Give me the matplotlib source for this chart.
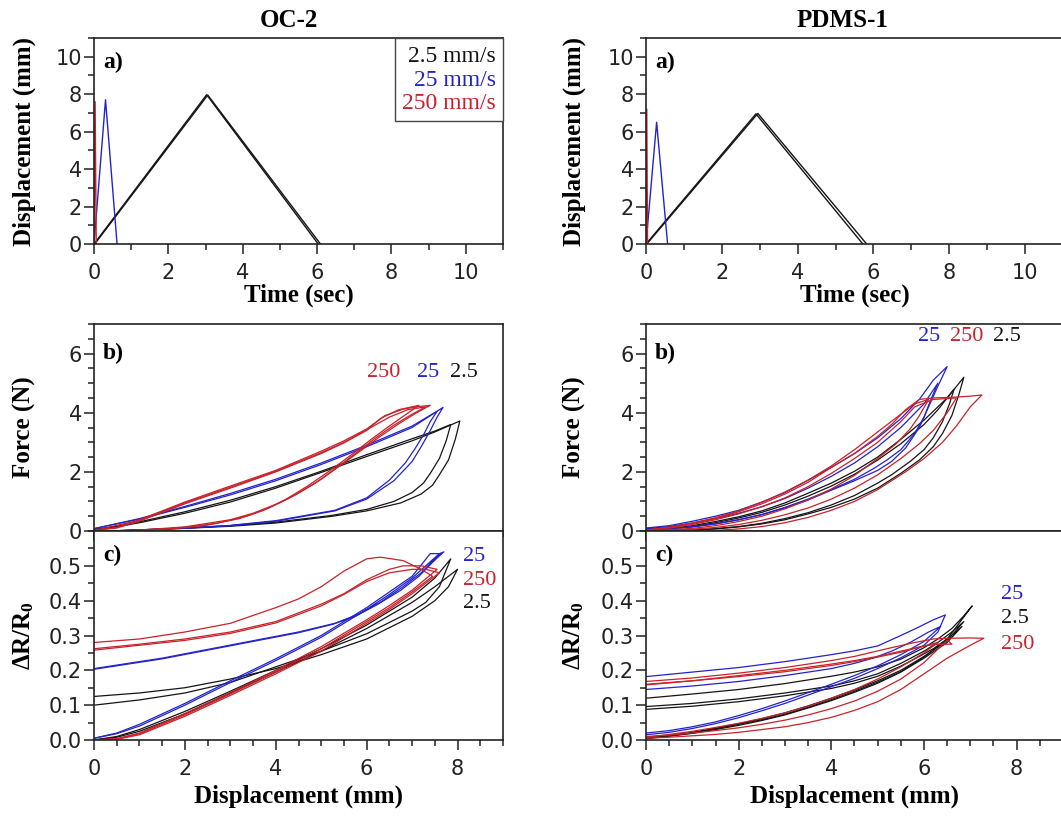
import matplotlib
matplotlib.use("Agg")
import matplotlib.pyplot as plt
from matplotlib.lines import Line2D
from matplotlib.ticker import MultipleLocator, FormatStrFormatter

# ---------------- data ----------------
speed_labels = ["2.5 mm/s", "25 mm/s", "250 mm/s"]

# a) displacement vs time: (time, displacement) per cycle
oc2_time_black = [([0, 3.03, 6.03], [0, 7.97, 0]), ([0.02, 3.06, 6.09], [0, 7.95, 0])]
oc2_time_blue = [([0, 0.31, 0.62], [0, 7.7, 0])]
oc2_time_red = [([0, 0.03, 0.06], [0, 7.6, 0])]
pdms_time_black = [([0, 2.9, 5.72], [0, 6.95, 0]), ([0.02, 2.95, 5.82], [0, 6.97, 0])]
pdms_time_blue = [([0, 0.28, 0.57], [0, 6.5, 0])]
pdms_time_red = [([0, 0.02, 0.04], [0, 7.2, 0])]

# b) force vs displacement: (load_x, load_y, unload_x, unload_y) per cycle
oc2_force_black = [
    ([0, 0.5, 1, 2, 3, 4, 5, 6, 7, 7.5, 8.05],
     [0.05, 0.14, 0.28, 0.6, 0.98, 1.45, 1.98, 2.52, 3.05, 3.35, 3.72],
     [8.05, 7.95, 7.8, 7.6, 7.45, 7.2, 6.75, 6.0, 5.25, 4.0, 3.0, 2.0, 1.0, 0.3],
     [3.72, 3.1, 2.4, 1.9, 1.55, 1.25, 0.95, 0.68, 0.5, 0.27, 0.16, 0.09, 0.04, 0.0]),
    ([0, 0.5, 1, 2, 3, 4, 5, 6, 7, 7.5, 7.85],
     [0.05, 0.16, 0.31, 0.65, 1.04, 1.5, 2.02, 2.58, 3.12, 3.38, 3.6],
     [7.85, 7.75, 7.6, 7.4, 7.25, 7.0, 6.6, 6.0, 5.2, 4.0, 3.0, 2.0, 1.0, 0.3],
     [3.6, 3.05, 2.45, 1.95, 1.62, 1.3, 1.0, 0.73, 0.52, 0.3, 0.18, 0.1, 0.04, 0.0]),
]
oc2_force_blue = [
    ([0, 1, 2, 3, 4, 5, 6, 7, 7.68],
     [0.08, 0.4, 0.8, 1.22, 1.7, 2.25, 2.85, 3.5, 4.18],
     [7.68, 7.55, 7.4, 7.2, 7.0, 6.6, 6.0, 5.3, 4.0, 3.0, 2.0, 1.0, 0.4],
     [4.18, 3.85, 3.4, 2.85, 2.35, 1.7, 1.08, 0.68, 0.33, 0.18, 0.09, 0.03, 0.0]),
    ([0, 1, 2, 3, 4, 5, 6, 7, 7.55],
     [0.08, 0.42, 0.83, 1.27, 1.75, 2.3, 2.9, 3.55, 4.05],
     [7.55, 7.4, 7.25, 7.05, 6.85, 6.5, 6.0, 5.3, 4.0, 3.0, 2.0, 1.0, 0.4],
     [4.05, 3.7, 3.25, 2.75, 2.3, 1.72, 1.12, 0.7, 0.35, 0.19, 0.1, 0.03, 0.0]),
]
oc2_force_red = [
    ([0, 0.5, 1, 2, 3, 4, 5, 5.5, 6, 6.4, 6.8, 7.1, 7.4],
     [0.02, 0.12, 0.38, 0.98, 1.52, 2.05, 2.7, 3.05, 3.45, 3.9, 4.12, 4.2, 4.25],
     [7.4, 7.1, 6.7, 6.3, 5.9, 5.5, 5.0, 4.5, 4.0, 3.5, 3.0, 2.0, 1.0, 0.5],
     [4.25, 4.0, 3.62, 3.2, 2.75, 2.3, 1.75, 1.28, 0.9, 0.6, 0.38, 0.14, 0.03, 0.0]),
    ([0, 0.5, 1, 2, 3, 4, 5, 5.5, 6, 6.3, 6.7, 7.15],
     [0.02, 0.1, 0.33, 0.92, 1.45, 2.0, 2.62, 2.98, 3.4, 3.8, 4.1, 4.25],
     [7.15, 6.9, 6.5, 6.1, 5.7, 5.2, 4.7, 4.2, 3.7, 3.2, 2.5, 1.8, 1.0, 0.5],
     [4.25, 3.98, 3.55, 3.1, 2.62, 2.05, 1.52, 1.05, 0.68, 0.42, 0.2, 0.09, 0.02, 0.0]),
    ([0, 1, 2, 3, 4, 5, 5.5, 6, 6.5, 6.9, 7.3],
     [0.02, 0.36, 0.95, 1.48, 2.02, 2.65, 3.0, 3.42, 3.85, 4.1, 4.2],
     [7.3, 7.0, 6.6, 6.2, 5.8, 5.35, 4.85, 4.35, 3.85, 3.35, 2.7, 2.0, 1.2, 0.5],
     [4.2, 3.95, 3.58, 3.15, 2.68, 2.15, 1.6, 1.15, 0.78, 0.5, 0.26, 0.12, 0.03, 0.0]),
]
pdms_force_black = [
    ([0, 0.5, 1, 1.5, 2, 2.5, 3, 3.5, 4, 4.5, 5, 5.5, 6, 6.5, 6.86],
     [0.03, 0.08, 0.18, 0.32, 0.48, 0.68, 0.95, 1.28, 1.62, 2.02, 2.5, 3.1, 3.75, 4.5, 5.2],
     [6.86, 6.75, 6.6, 6.4, 6.2, 5.9, 5.5, 5.0, 4.5, 4.0, 3.5, 3.0, 2.5, 2.0, 1.5, 1.0, 0.5, 0.0],
     [5.2, 4.6, 3.9, 3.3, 2.85, 2.4, 1.95, 1.45, 1.08, 0.8, 0.58, 0.38, 0.24, 0.14, 0.07, 0.03, 0.01, 0.02]),
    ([0, 0.5, 1, 1.5, 2, 2.5, 3, 3.5, 4, 4.5, 5, 5.5, 6, 6.3, 6.65],
     [0.03, 0.07, 0.15, 0.28, 0.44, 0.63, 0.88, 1.18, 1.52, 1.92, 2.4, 2.95, 3.6, 4.1, 4.8],
     [6.65, 6.55, 6.4, 6.2, 6.0, 5.7, 5.3, 5.0, 4.5, 4.0, 3.5, 3.0, 2.5, 2.0, 1.5, 1.0, 0.5, 0.0],
     [4.8, 4.3, 3.7, 3.15, 2.75, 2.35, 1.9, 1.62, 1.2, 0.88, 0.62, 0.42, 0.26, 0.15, 0.08, 0.03, 0.01, 0.02]),
]
pdms_force_blue = [
    ([0, 0.5, 1, 1.5, 2, 2.5, 3, 3.5, 4, 4.5, 5, 5.5, 5.9, 6.2, 6.5],
     [0.1, 0.18, 0.33, 0.5, 0.7, 0.98, 1.3, 1.72, 2.15, 2.62, 3.15, 3.8, 4.45, 5.1, 5.56],
     [6.5, 6.3, 6.1, 5.9, 5.6, 5.3, 5.0, 4.5, 4.0, 3.5, 3.0, 2.5, 2.0, 1.5, 1.0, 0.5, 0.0],
     [5.56, 4.9, 4.2, 3.5, 2.8, 2.35, 2.05, 1.7, 1.38, 1.05, 0.78, 0.55, 0.38, 0.24, 0.14, 0.08, 0.06]),
    ([0, 0.5, 1, 1.5, 2, 2.5, 3, 3.5, 4, 4.5, 5, 5.5, 6, 6.3],
     [0.08, 0.15, 0.27, 0.42, 0.6, 0.82, 1.1, 1.45, 1.85, 2.3, 2.85, 3.5, 4.3, 5.0],
     [6.3, 6.15, 6.0, 5.8, 5.5, 5.2, 4.9, 4.5, 4.0, 3.5, 3.0, 2.5, 2.0, 1.5, 1.0, 0.5, 0.0],
     [5.0, 4.45, 3.85, 3.3, 2.75, 2.4, 2.1, 1.75, 1.4, 1.08, 0.8, 0.56, 0.38, 0.24, 0.14, 0.08, 0.06]),
]
pdms_force_red = [
    ([0, 0.5, 1, 1.5, 2, 2.5, 3, 3.5, 4, 4.5, 5, 5.3, 5.6, 5.9, 6.2, 6.6, 7.0, 7.25],
     [0.03, 0.12, 0.25, 0.42, 0.65, 0.92, 1.25, 1.65, 2.15, 2.62, 3.2, 3.6, 4.1, 4.45, 4.5, 4.52, 4.56, 4.6],
     [7.25, 7.0, 6.7, 6.4, 6.0, 5.6, 5.0, 4.5, 4.0, 3.5, 3.0, 2.5, 2.0, 1.5, 1.0, 0.5],
     [4.6, 4.2, 3.55, 3.0, 2.45, 2.0, 1.4, 1.0, 0.7, 0.46, 0.28, 0.15, 0.07, 0.02, 0.0, 0.0]),
    ([0, 0.5, 1, 1.5, 2, 2.5, 3, 3.5, 4, 4.5, 5, 5.5, 5.8, 6.2, 6.7],
     [0.03, 0.1, 0.22, 0.38, 0.58, 0.82, 1.12, 1.5, 1.95, 2.45, 3.0, 3.7, 4.2, 4.45, 4.5],
     [6.7, 6.5, 6.2, 5.9, 5.5, 5.0, 4.5, 4.0, 3.5, 3.0, 2.5, 2.0, 1.5, 1.0, 0.5, 0.0],
     [4.5, 4.0, 3.4, 2.95, 2.45, 1.9, 1.45, 1.08, 0.78, 0.55, 0.36, 0.22, 0.12, 0.06, 0.02, 0.02]),
    ([0, 0.5, 1, 1.5, 2, 2.5, 3, 3.5, 4, 4.5, 5, 5.5, 5.8, 6.1],
     [0.03, 0.13, 0.27, 0.45, 0.68, 0.97, 1.32, 1.72, 2.2, 2.75, 3.35, 3.95, 4.3, 4.45],
     [6.1, 5.9, 5.7, 5.4, 5.0, 4.5, 4.0, 3.5, 3.0, 2.5, 2.0, 1.5, 1.0, 0.5, 0.0],
     [4.45, 3.9, 3.45, 2.95, 2.45, 1.88, 1.42, 1.05, 0.75, 0.5, 0.32, 0.18, 0.09, 0.04, 0.03]),
]

# c) relative resistance change vs displacement
oc2_dr_black = [
    ([0, 0.5, 1, 2, 3, 4, 5, 6, 7, 7.5, 8.0],
     [0.0, 0.008, 0.025, 0.075, 0.135, 0.195, 0.255, 0.32, 0.395, 0.44, 0.49],
     [8.0, 7.8, 7.5, 7.0, 6.0, 5.0, 4.0, 3.0, 2.0, 1.0, 0.0],
     [0.49, 0.44, 0.4, 0.355, 0.29, 0.245, 0.205, 0.175, 0.15, 0.135, 0.125]),
    ([0, 0.5, 1, 2, 3, 4, 5, 6, 7, 7.5, 7.85],
     [0.0, 0.01, 0.03, 0.082, 0.14, 0.2, 0.262, 0.33, 0.41, 0.465, 0.52],
     [7.85, 7.6, 7.3, 7.0, 6.0, 5.0, 4.0, 3.0, 2.0, 1.0, 0.0],
     [0.52, 0.44, 0.395, 0.37, 0.305, 0.255, 0.21, 0.165, 0.135, 0.115, 0.10]),
]
oc2_dr_blue = [
    ([0, 0.5, 1, 2, 3, 4, 5, 6, 6.5, 7, 7.3, 7.6],
     [0.005, 0.018, 0.04, 0.1, 0.165, 0.228, 0.295, 0.375, 0.418, 0.465, 0.5, 0.535],
     [7.6, 7.7, 7.5, 7.2, 6.8, 6.3, 5.8, 5.3, 4.5, 3.5, 2.5, 1.5, 0.5, 0.0],
     [0.535, 0.54, 0.52, 0.48, 0.44, 0.395, 0.36, 0.335, 0.31, 0.285, 0.26, 0.235, 0.215, 0.205]),
    ([0, 0.5, 1, 2, 3, 4, 5, 6, 6.5, 7, 7.4],
     [0.005, 0.02, 0.045, 0.105, 0.17, 0.233, 0.3, 0.38, 0.425, 0.47, 0.535],
     [7.4, 7.65, 7.45, 7.15, 6.75, 6.25, 5.75, 5.25, 4.5, 3.5, 2.5, 1.5, 0.5, 0.0],
     [0.535, 0.535, 0.51, 0.47, 0.43, 0.39, 0.355, 0.332, 0.308, 0.283, 0.258, 0.233, 0.213, 0.203]),
]
oc2_dr_red = [
    ([0, 0.5, 1, 2, 3, 4, 5, 6, 6.5, 7, 7.45],
     [0, 0.003, 0.018, 0.072, 0.132, 0.195, 0.262, 0.34, 0.38, 0.425, 0.47],
     [7.45, 7.2, 6.8, 6.3, 6.0, 5.5, 5.0, 4.5, 4.0, 3.0, 2.0, 1.0, 0.0],
     [0.47, 0.49, 0.515, 0.525, 0.52, 0.485, 0.44, 0.405, 0.38, 0.335, 0.31, 0.29, 0.28]),
    ([0, 0.5, 1, 2, 3, 4, 5, 6, 6.5, 7, 7.55],
     [0, 0.004, 0.02, 0.076, 0.136, 0.2, 0.268, 0.345, 0.386, 0.43, 0.49],
     [7.55, 7.2, 6.8, 6.5, 6.0, 5.5, 5.0, 4.0, 3.0, 2.0, 1.0, 0.0],
     [0.49, 0.5, 0.5, 0.49, 0.46, 0.42, 0.39, 0.34, 0.31, 0.29, 0.275, 0.262]),
    ([0, 0.5, 1, 2, 3, 4, 5, 6, 6.5, 7, 7.6],
     [0, 0.002, 0.015, 0.068, 0.128, 0.19, 0.255, 0.335, 0.375, 0.42, 0.48],
     [7.6, 7.3, 7.0, 6.5, 6.0, 5.5, 5.0, 4.0, 3.0, 2.0, 1.0, 0.0],
     [0.48, 0.49, 0.49, 0.48, 0.455, 0.418, 0.385, 0.336, 0.306, 0.286, 0.272, 0.258]),
]
pdms_dr_black = [
    ([0, 0.5, 1, 1.5, 2, 2.5, 3, 3.5, 4, 4.5, 5, 5.5, 6, 6.5, 7.04],
     [0.005, 0.012, 0.02, 0.032, 0.045, 0.058, 0.074, 0.094, 0.116, 0.14, 0.166, 0.196, 0.238, 0.29, 0.385],
     [7.04, 6.85, 6.6, 6.3, 6.0, 5.5, 5.0, 4.5, 4.0, 3.0, 2.0, 1.0, 0.0],
     [0.385, 0.355, 0.32, 0.29, 0.265, 0.232, 0.21, 0.195, 0.183, 0.162, 0.145, 0.132, 0.12]),
    ([0, 0.5, 1, 1.5, 2, 2.5, 3, 3.5, 4, 4.5, 5, 5.5, 6, 6.5, 6.86],
     [0.005, 0.013, 0.022, 0.034, 0.047, 0.061, 0.078, 0.098, 0.12, 0.144, 0.17, 0.2, 0.24, 0.285, 0.34],
     [6.86, 6.6, 6.3, 6.0, 5.5, 5.0, 4.5, 4.0, 3.0, 2.0, 1.0, 0.0],
     [0.34, 0.31, 0.28, 0.255, 0.22, 0.19, 0.17, 0.155, 0.135, 0.118, 0.105, 0.096]),
    ([0, 0.5, 1, 1.5, 2, 2.5, 3, 3.5, 4, 4.5, 5, 5.5, 6, 6.5, 6.82],
     [0.004, 0.011, 0.019, 0.03, 0.042, 0.056, 0.072, 0.092, 0.113, 0.137, 0.163, 0.195, 0.235, 0.28, 0.326],
     [6.82, 6.5, 6.2, 5.9, 5.5, 5.0, 4.5, 4.0, 3.0, 2.0, 1.0, 0.0],
     [0.326, 0.29, 0.262, 0.24, 0.212, 0.183, 0.163, 0.148, 0.127, 0.11, 0.097, 0.088]),
]
pdms_dr_blue = [
    ([0, 0.5, 1, 1.5, 2, 2.5, 3, 3.5, 4, 4.5, 5, 5.5, 6, 6.3, 6.46],
     [0.015, 0.022, 0.033, 0.047, 0.064, 0.084, 0.105, 0.129, 0.153, 0.177, 0.205, 0.236, 0.272, 0.31, 0.359],
     [6.46, 6.2, 5.9, 5.5, 5.0, 4.5, 4.0, 3.0, 2.0, 1.0, 0.0],
     [0.359, 0.345, 0.325, 0.3, 0.27, 0.256, 0.245, 0.225, 0.208, 0.195, 0.182]),
    ([0, 0.5, 1, 1.5, 2, 2.5, 3, 3.5, 4, 4.5, 5, 5.5, 6, 6.36],
     [0.02, 0.027, 0.038, 0.052, 0.07, 0.09, 0.112, 0.136, 0.16, 0.185, 0.213, 0.245, 0.283, 0.326],
     [6.36, 6.1, 5.7, 5.3, 4.9, 4.5, 4.0, 3.0, 2.0, 1.0, 0.0],
     [0.326, 0.31, 0.28, 0.255, 0.235, 0.22, 0.205, 0.185, 0.168, 0.155, 0.145]),
]
pdms_dr_red = [
    ([0, 0.5, 1, 1.5, 2, 2.5, 3, 3.5, 4, 4.5, 5, 5.5, 6, 6.5, 7.0, 7.29],
     [0.005, 0.008, 0.012, 0.016, 0.022, 0.03, 0.038, 0.05, 0.065, 0.085, 0.11, 0.145, 0.19, 0.235, 0.272, 0.292],
     [7.29, 7.0, 6.5, 6.2, 5.8, 5.2, 4.5, 4.0, 3.0, 2.0, 1.0, 0.0],
     [0.292, 0.293, 0.292, 0.29, 0.28, 0.262, 0.24, 0.228, 0.208, 0.192, 0.178, 0.168]),
    ([0, 0.5, 1, 1.5, 2, 2.5, 3, 3.5, 4, 4.5, 5, 5.5, 6, 6.5],
     [0.01, 0.014, 0.02, 0.027, 0.035, 0.045, 0.057, 0.072, 0.09, 0.112, 0.14, 0.175, 0.222, 0.287],
     [6.5, 6.6, 6.3, 6.0, 5.5, 5.0, 4.5, 4.0, 3.0, 2.0, 1.0, 0.0],
     [0.287, 0.275, 0.275, 0.27, 0.255, 0.24, 0.228, 0.218, 0.2, 0.185, 0.17, 0.158]),
    ([0, 0.5, 1, 1.5, 2, 2.5, 3, 3.5, 4, 4.5, 5, 5.5, 6, 6.3],
     [0.008, 0.016, 0.025, 0.036, 0.048, 0.062, 0.078, 0.097, 0.12, 0.145, 0.175, 0.21, 0.25, 0.28],
     [6.3, 6.0, 5.5, 5.0, 4.5, 4.0, 3.0, 2.0, 1.0, 0.0],
     [0.28, 0.27, 0.252, 0.238, 0.225, 0.214, 0.196, 0.182, 0.17, 0.16]),
]

# speed annotations next to the loops: (text, x, y)
oc2_force_notes = [("250", 6.37, 5.36), ("25", 7.36, 5.36), ("2.5", 8.13, 5.36)]
oc2_dr_notes = [("25", 8.12, 0.526), ("250", 8.12, 0.457), ("2.5", 8.12, 0.393)]
pdms_force_notes = [("25", 6.12, 6.58), ("250", 6.92, 6.58), ("2.5", 7.78, 6.58)]
pdms_dr_notes = [("25", 7.67, 0.417), ("2.5", 7.67, 0.35), ("250", 7.67, 0.273)]

# ---------------- style ----------------
BLACK, BLUE, RED = "#151515", "#2323cc", "#c8222a"
NOTE_COLORS = {"2.5": BLACK, "25": BLUE, "250": RED}
plt.rcParams["font.family"] = ["Liberation Serif", "DejaVu Serif"]
plt.rcParams["mathtext.fontset"] = "custom"
plt.rcParams["mathtext.rm"] = "Liberation Serif"
plt.rcParams["mathtext.bf"] = "Liberation Serif:bold"
plt.rcParams["axes.linewidth"] = 1.2

W, H = 1061, 816
fig = plt.figure(figsize=(W / 100, H / 100), dpi=100)


def make_axes(left, width, top, bottom):
    return fig.add_axes([left / W, 1 - bottom / H, width / W, (bottom - top) / H])


def style(ax, xmaj, xmin, ymaj, ymin, xlim, ylim):
    ax.set_xlim(*xlim)
    ax.set_ylim(*ylim)
    ax.xaxis.set_major_locator(MultipleLocator(xmaj))
    ax.xaxis.set_minor_locator(MultipleLocator(xmin))
    ax.yaxis.set_major_locator(MultipleLocator(ymaj))
    ax.yaxis.set_minor_locator(MultipleLocator(ymin))
    for s in ax.spines.values():
        s.set_color("#222222")
    ax.tick_params(which="both", direction="out", color="#222222", width=1.1,
                   labelsize=15, labelfontfamily="DejaVu Sans", labelcolor="#222222")
    ax.tick_params(which="major", length=7)
    ax.tick_params(which="minor", length=4)
    ax.tick_params(axis="x", pad=7)
    ax.tick_params(axis="y", pad=1.5)
    ax.yaxis.set_label_coords(-0.143, 0.5)


def plot_loops(ax, loops, color):
    for lx, ly, ux, uy in loops:
        ax.plot(list(lx) + list(ux), list(ly) + list(uy), color=color, lw=0.9)


def panel_label(ax, text, y):
    ax.text(0.022, y, text, transform=ax.transAxes, fontsize=17,
            fontweight="bold", va="center")


label_kw = dict(fontsize=18, fontweight="bold")

columns = [
    ("OC-2", 94, 409, 0.477,
     (oc2_time_black, oc2_time_blue, oc2_time_red),
     (oc2_force_black, oc2_force_blue, oc2_force_red),
     (oc2_dr_black, oc2_dr_blue, oc2_dr_red),
     oc2_force_notes, oc2_dr_notes),
    ("PDMS-1", 646, 417, 0.472,
     (pdms_time_black, pdms_time_blue, pdms_time_red),
     (pdms_force_black, pdms_force_blue, pdms_force_red),
     (pdms_dr_black, pdms_dr_blue, pdms_dr_red),
     pdms_force_notes, pdms_dr_notes),
]

for ci, (title, left, width, tx, time_sets, force_sets, dr_sets,
         f_notes, dr_notes) in enumerate(columns):
    # a) displacement vs time
    ax_a = make_axes(left, width, 38, 244)
    style(ax_a, 2, 1, 2, 1, (0, 11), (0, 11))
    for runs, col in zip(time_sets, (BLACK, BLUE, RED)):
        for t, d in runs:
            ax_a.plot(t, d, color=col, lw=1.0)
    ax_a.set_xlabel("Time (sec)", labelpad=0, **label_kw)
    ax_a.set_ylabel("Displacement (mm)", **label_kw)
    ax_a.set_title(title, x=tx, pad=8, **label_kw)
    panel_label(ax_a, "a)", 0.88)

    # b) force vs displacement
    ax_b = make_axes(left, width, 324, 531)
    style(ax_b, 2, 0.5, 2, 0.5, (0, 9), (0, 7))
    for loops, col in zip(force_sets, (BLACK, BLUE, RED)):
        plot_loops(ax_b, loops, col)
    ax_b.tick_params(axis="x", labelbottom=False)
    ax_b.set_ylabel("Force (N)", **label_kw)
    panel_label(ax_b, "b)", 0.86)
    for txt, x, y in f_notes:
        ax_b.text(x, y, txt, color=NOTE_COLORS[txt], fontsize=16,
                  ha="center", va="center")

    # c) resistance change vs displacement
    ax_c = make_axes(left, width, 531, 740)
    style(ax_c, 2, 0.5, 0.1, 0.05, (0, 9), (0, 0.6))
    ax_c.set_yticks([0, 0.1, 0.2, 0.3, 0.4, 0.5])
    ax_c.yaxis.set_major_formatter(FormatStrFormatter("%.1f"))
    for loops, col in zip(dr_sets, (BLACK, BLUE, RED)):
        plot_loops(ax_c, loops, col)
    ax_c.set_xlabel("Displacement (mm)", labelpad=4, **label_kw)
    ax_c.set_ylabel(r"$\mathbf{\Delta R/R_0}$", **label_kw)
    panel_label(ax_c, "c)", 0.885)
    for txt, x, y in dr_notes:
        ax_c.text(x, y, txt, color=NOTE_COLORS[txt], fontsize=16, va="center")

    if ci == 0:
        handles = [Line2D([], [], color=c) for c in (BLACK, BLUE, RED)]
        leg = ax_a.legend(handles, speed_labels, loc="upper right", handlelength=0,
                          handletextpad=0, markerfirst=False, labelcolor="linecolor",
                          fancybox=False, edgecolor="#444444", framealpha=1,
                          borderaxespad=0, fontsize=17, borderpad=0.3,
                          labelspacing=0.1)
        leg.get_frame().set_linewidth(1.0)

fig.savefig("out.png", dpi=100)
